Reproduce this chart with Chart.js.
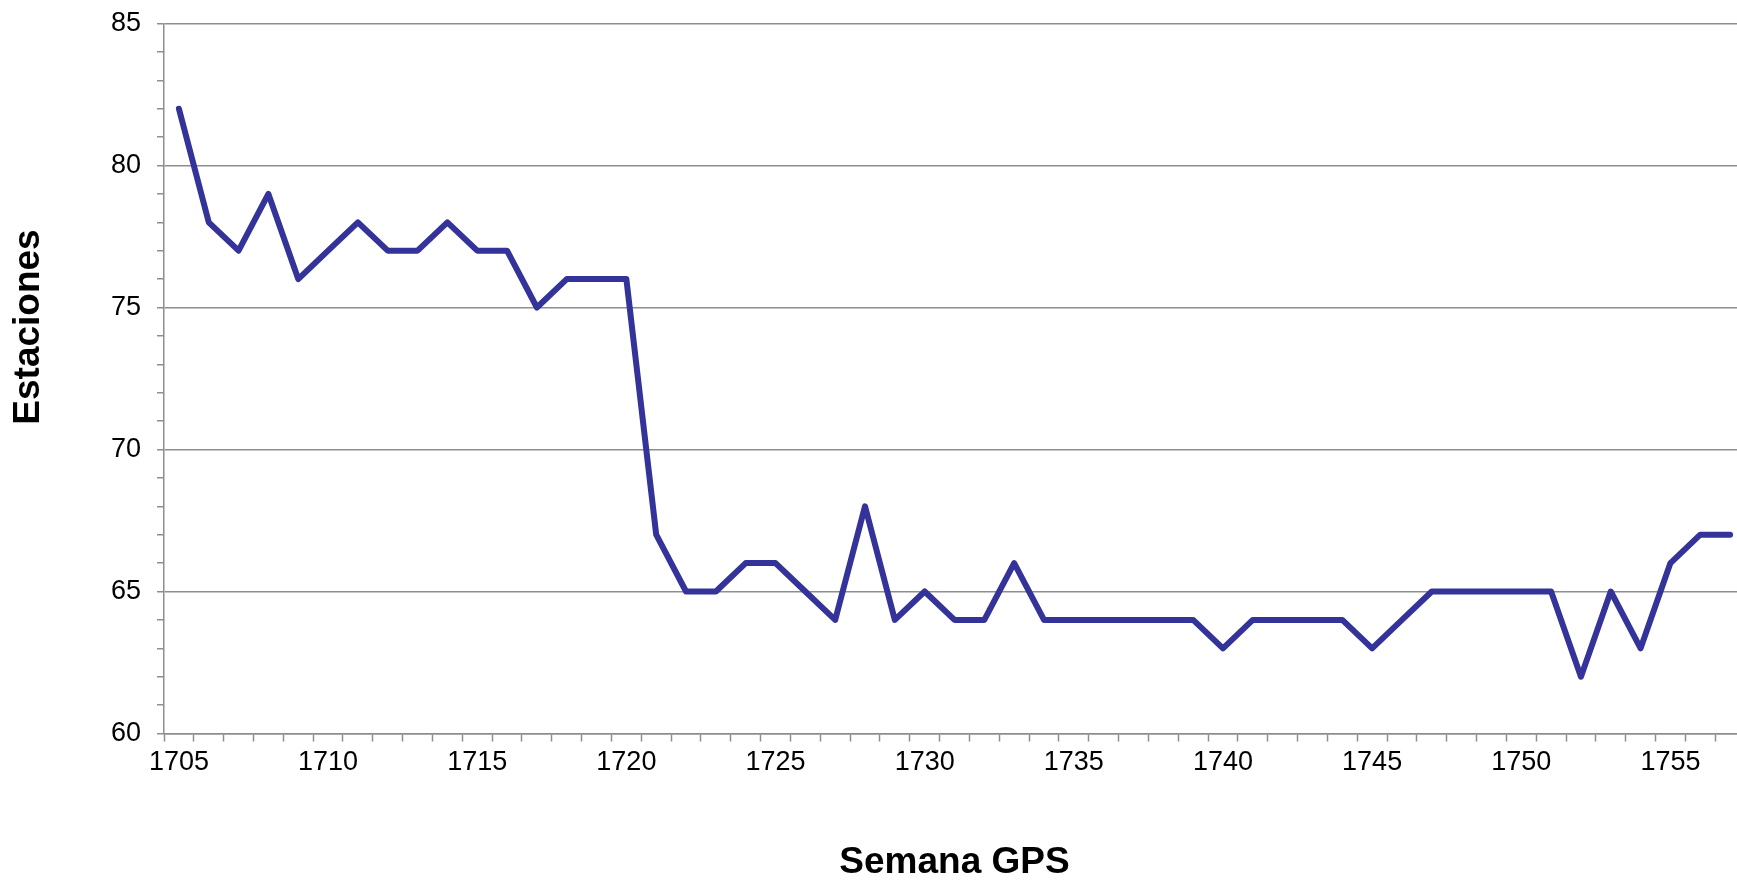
<!DOCTYPE html>
<html>
<head>
<meta charset="utf-8">
<script src="https://cdn.jsdelivr.net/npm/chart.js@4/dist/chart.umd.min.js"></script>
<style>
    html, body { margin: 0; padding: 0; background: #fff; overflow: hidden; }
    #wrap { position: relative; width: 1745px; height: 880px; }
</style>
</head>
<body>
<div id="wrap"><canvas id="chart"></canvas></div>
<script>
// GPS weeks 1705 .. 1757
const semanas = [
    1705, 1706, 1707, 1708, 1709, 1710, 1711, 1712, 1713, 1714,
    1715, 1716, 1717, 1718, 1719, 1720, 1721, 1722, 1723, 1724,
    1725, 1726, 1727, 1728, 1729, 1730, 1731, 1732, 1733, 1734,
    1735, 1736, 1737, 1738, 1739, 1740, 1741, 1742, 1743, 1744,
    1745, 1746, 1747, 1748, 1749, 1750, 1751, 1752, 1753, 1754,
    1755, 1756, 1757
];
// number of stations per week
const estaciones = [
    82, 78, 77, 79, 76, 77, 78, 77, 77, 78,
    77, 77, 75, 76, 76, 76, 67, 65, 65, 66,
    66, 65, 64, 68, 64, 65, 64, 64, 66, 64,
    64, 64, 64, 64, 64, 63, 64, 64, 64, 64,
    63, 64, 65, 65, 65, 65, 65, 62, 65, 63,
    66, 67, 67
];
const yMin = 60, yMax = 85, yMajor = 5;
const xTitle = 'Semana GPS';
const yTitle = 'Estaciones';

const gris = '#8e8e8e';
const fuente = '"Liberation Sans", Arial, sans-serif';

// axis titles placed like in the excel original
const axisTitles = {
    id: 'axisTitles',
    afterDraw(chart) {
        const ctx = chart.ctx;
        const area = chart.chartArea;
        ctx.save();
        ctx.font = 'bold 37px ' + fuente;
        ctx.fillStyle = '#000';
        ctx.textAlign = 'center';
        ctx.textBaseline = 'middle';
        ctx.fillText(xTitle, (area.left + area.right) / 2, 863);
        ctx.translate(29, 327);
        ctx.rotate(-Math.PI / 2);
        ctx.fillText(yTitle, 0, 0);
        ctx.restore();
    }
};

new Chart(document.getElementById('chart'), {
    type: 'line',
    data: {
        labels: semanas,
        datasets: [{
            label: yTitle,
            data: estaciones,
            borderColor: '#333399',
            borderWidth: 6,
            borderJoinStyle: 'round',
            borderCapStyle: 'round',
            pointRadius: 0,
            tension: 0,
            fill: false
        }]
    },
    options: {
        responsive: true,
        maintainAspectRatio: false,
        animation: false,
        layout: {
            autoPadding: false,
            padding: { top: 23.5, right: 0, bottom: 0, left: 0 }
        },
        plugins: {
            legend: { display: false },
            tooltip: { enabled: false }
        },
        scales: {
            x: {
                type: 'category',
                offset: true,
                afterFit: (s) => {
                    s.height = 880 - 733.5;
                    s.paddingLeft = 0;
                    s.paddingRight = 0;
                },
                grid: {
                    offset: true,
                    drawOnChartArea: false,
                    tickLength: 8,
                    tickColor: gris,
                    tickWidth: 1.5
                },
                border: { color: gris, width: 1.5 },
                ticks: {
                    autoSkip: false,
                    maxRotation: 0,
                    padding: 5,
                    color: '#000',
                    font: { family: fuente, size: 27 },
                    callback: function (value, index) {
                        const s = semanas[index];
                        return (s - semanas[0]) % 5 === 0 ? String(s) : '';
                    }
                }
            },
            y: {
                min: yMin,
                max: yMax,
                afterFit: (s) => {
                    s.width = 164;
                    // keep the top label from pushing the plot down
                    s.paddingTop = 0;
                    s.paddingBottom = 0;
                },
                grid: {
                    color: (c) => (c.tick && c.tick.value % yMajor === 0) ? gris : 'rgba(0,0,0,0)',
                    lineWidth: 1.5,
                    tickLength: 7,
                    tickColor: gris,
                    tickWidth: 1.5
                },
                border: { color: gris, width: 1.5 },
                ticks: {
                    stepSize: 1,
                    autoSkip: false,
                    padding: 16,
                    color: '#000',
                    font: { family: fuente, size: 27 },
                    callback: (v) => (v % yMajor === 0 ? String(v) : '')
                }
            }
        }
    },
    plugins: [axisTitles]
});
</script>
</body>
</html>
